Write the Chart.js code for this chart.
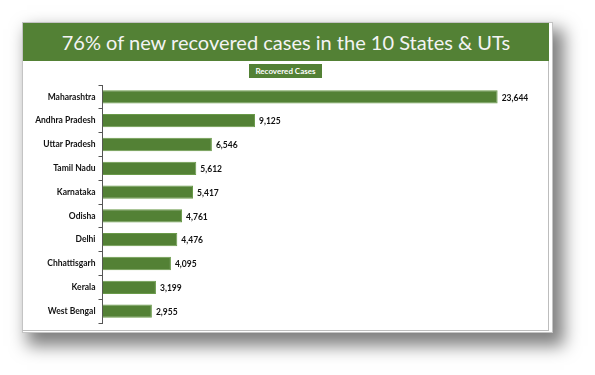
<!DOCTYPE html>
<html>
<head>
<meta charset="utf-8">
<script src="https://cdn.jsdelivr.net/npm/chart.js@4"></script>
<style>
  html, body { margin: 0; padding: 0; background: #fff; }
  body { width: 595px; height: 375px; position: relative; overflow: hidden; font-family: Lato, "Open Sans", sans-serif; }
  #card {
    position: absolute; left: 22px; top: 22px; width: 529px; height: 309px;
    background: #fff; border: 1px solid #c4c4c4;
    box-shadow: 8px 10px 16px 3px rgba(0,0,0,0.5);
  }
  #inner {
    position: absolute; left: 22px; top: 22px; width: 526px; height: 308px;
    border-right: 1px solid #bdbdbd; border-bottom: 1px solid #bdbdbd;
  }
  #header {
    position: absolute; left: 23px; top: 23px; width: 526px; height: 38px;
    background: #538135; color: #f4f4f4; text-align: center;
    font-size: 20px; line-height: 38px;
  }
  #legend {
    position: absolute; left: 249px; top: 64px; width: 73px; height: 14px;
    background: #538135; color: #fff; text-align: center;
    font-size: 8px; font-weight: bold; line-height: 14px;
  }
  #chart { position: absolute; left: 0; top: 0; }
</style>
</head>
<body>
<div id="card"></div>
<div id="inner"></div>
<div id="header">76% of new recovered cases in the 10 States &amp; UTs</div>
<div id="legend">Recovered Cases</div>
<canvas id="chart" width="595" height="375"></canvas>
<script>
const states = ["Maharashtra", "Andhra Pradesh", "Uttar Pradesh", "Tamil Nadu", "Karnataka",
  "Odisha", "Delhi", "Chhattisgarh", "Kerala", "West Bengal"];
const recovered = [23644, 9125, 6546, 5612, 5417, 4761, 4476, 4095, 3199, 2955];

const barGreen = "#538135";

// value labels at the end of each bar
const valueLabels = {
  id: "valueLabels",
  afterDatasetsDraw(chart) {
    const ctx = chart.ctx;
    const meta = chart.getDatasetMeta(0);
    ctx.save();
    ctx.font = "bold 8.5px Lato, sans-serif";
    ctx.fillStyle = "#111";
    ctx.textBaseline = "middle";
    ctx.textAlign = "left";
    meta.data.forEach((bar, i) => {
      ctx.fillText(recovered[i].toLocaleString("en-US"), bar.x + 4, bar.y + 1);
    });
    ctx.restore();
  }
};

new Chart(document.getElementById("chart"), {
  type: "bar",
  data: {
    labels: states,
    datasets: [{
      label: "Recovered Cases",
      data: recovered,
      backgroundColor: barGreen,
      borderColor: "#6a9a4a",
      borderWidth: 1,
      barPercentage: 0.56,
      categoryPercentage: 1
    }]
  },
  options: {
    indexAxis: "y",
    responsive: false,
    animation: false,
    layout: { padding: { left: 22, top: 85, right: 58, bottom: 52 } },
    plugins: {
      legend: { display: false },
      tooltip: { enabled: false }
    },
    scales: {
      x: { display: false, min: 0, max: 26000 },
      y: {
        afterFit(scale) { scale.width = 80.5; },
        border: { display: true, color: "#555", width: 1 },
        grid: { display: true, drawOnChartArea: false, drawTicks: true, tickLength: 4, color: "#555", offset: true },
        ticks: { color: "#111", padding: 3, font: { family: "Lato", size: 8.5, weight: "bold" } }
      }
    }
  },
  plugins: [valueLabels]
});
</script>
</body>
</html>
